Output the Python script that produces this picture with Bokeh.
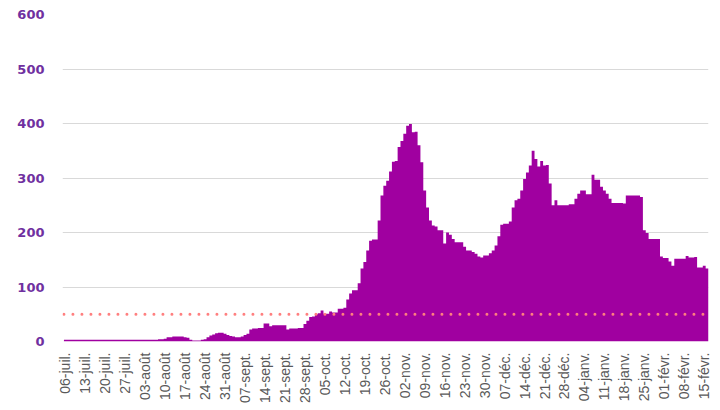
import math
from bokeh.plotting import figure
from bokeh.models import FixedTicker, Range1d
from bokeh.embed import file_html
from bokeh.resources import INLINE

# Daily values, 06 July 2020 -> 16 Feb 2021
july = [3] * 26
august = [3, 3, 3, 3, 3, 3, 3, 4, 4,
          5, 8, 8, 9, 9, 9, 9, 8, 7,
          3, 2, 2, 2, 3, 4,
          8, 11, 13, 15, 16, 16, 14]
september = [12, 10, 9, 8, 8, 9, 12, 14, 22, 24, 24, 25, 25, 33, 33, 28,
             30, 30, 30, 30, 30, 22, 24, 24, 24, 25, 25, 32, 38, 45]
october = [46, 50, 52, 57, 51, 51, 55, 53, 53, 60, 60, 62, 77, 88, 94, 94,
           107, 134, 146, 167, 185, 187, 187, 222, 268, 286, 295, 312, 330, 331, 357]
november = [368, 381, 396, 399, 384, 385, 360, 329, 277, 246, 222, 213, 211, 204, 204,
            180, 200, 196, 188, 182, 182, 182, 174, 167, 167, 164, 161, 156, 154, 158]
december = [158, 162, 167, 176, 193, 214, 216, 216, 220, 246, 259, 262, 277, 298, 310,
            323, 350, 335, 321, 331, 323, 324, 290, 250, 259, 250, 250, 250, 250, 252, 252]
january = [262, 271, 277, 277, 270, 270, 306, 297, 297, 284, 277, 271, 262, 254, 254,
           254, 254, 253, 268, 268, 268, 268, 268, 265, 204, 199, 188, 188, 188, 188, 156]
february = [153, 153, 147, 139, 152, 152, 152, 152, 157, 154, 154, 155, 136, 136, 139, 134]

cases = july + august + september + october + november + december + january + february
days = list(range(len(cases)))

tick_labels = ["06-juil.", "13-juil.", "20-juil.", "27-juil.", "03-août", "10-août",
               "17-août", "24-août", "31-août", "07-sept.", "14-sept.", "21-sept.",
               "28-sept.", "05-oct.", "12-oct.", "19-oct.", "26-oct.", "02-nov.",
               "09-nov.", "16-nov.", "23-nov.", "30-nov.", "07-déc.", "14-déc.",
               "21-déc.", "28-déc.", "04-janv.", "11-janv.", "18-janv.", "25-janv.",
               "01-févr.", "08-févr.", "15-févr."]
week_ticks = days[::7][:len(tick_labels)]
y_ticks = [0, 100, 200, 300, 400, 500, 600]
threshold = 50

bar_color = "#A000A0"
label_purple = "#7030A0"

# bar edges (each daily bar spans day-0.5 .. day+0.5)
edges = [d - 0.5 for d in days] + [days[-1] + 0.5]
edge_vals = cases + [cases[-1]]

p = figure(width=720, height=410, output_backend="svg", toolbar_location=None,
           x_range=Range1d(-1.0, 225.5), y_range=Range1d(0, 600),
           min_border_left=62, min_border_right=12, min_border_top=14,
           min_border_bottom=69)
p.outline_line_color = None
p.background_fill_color = "white"
p.border_fill_color = "white"

p.varea_step(x=edges, y1=[0] * len(edges), y2=edge_vals, step_mode="after",
             fill_color=bar_color)

p.line(x=[days[0] - 0.5, days[-1] - 1], y=[threshold, threshold],
       line_color="#FF7F7F", line_width=3, line_dash="0 9", line_cap="round")

p.xgrid.visible = False
p.ygrid.grid_line_color = "#D9D9D9"
p.ygrid.grid_line_width = 1

p.yaxis.ticker = FixedTicker(ticks=y_ticks)
p.yaxis.axis_line_color = None
p.yaxis.major_tick_line_color = None
p.yaxis.minor_tick_line_color = None
p.yaxis.major_tick_out = 0
p.yaxis.major_tick_in = 0
p.yaxis.major_label_standoff = 18
p.yaxis.major_label_text_font = "DejaVu Sans"
p.yaxis.major_label_text_font_style = "bold"
p.yaxis.major_label_text_font_size = "13px"
p.yaxis.major_label_text_color = label_purple

p.xaxis.ticker = FixedTicker(ticks=week_ticks)
p.xaxis.major_label_overrides = {t: s for t, s in zip(week_ticks, tick_labels)}
p.xaxis.major_label_orientation = math.pi / 2
p.xaxis.axis_line_color = None
p.xaxis.major_tick_line_color = None
p.xaxis.minor_tick_line_color = None
p.xaxis.major_tick_out = 0
p.xaxis.major_tick_in = 0
p.xaxis.major_label_standoff = 11
p.xaxis.major_label_text_font = "Liberation Sans"
p.xaxis.major_label_text_font_size = "14px"
p.xaxis.major_label_text_color = "#595959"

open("out.html", "w").write(file_html(p, INLINE))
